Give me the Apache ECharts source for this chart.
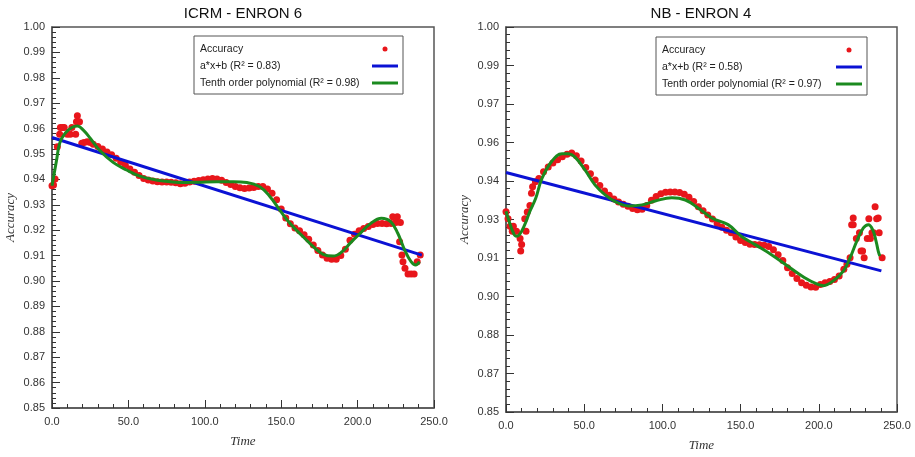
<!DOCTYPE html>
<html>
<head>
<meta charset="utf-8">
<script src="https://cdn.jsdelivr.net/npm/echarts@6/dist/echarts.min.js"></script>
<style>
html,body{margin:0;padding:0;background:#fff;}
#chart{width:915px;height:457px;}
</style>
</head>
<body>
<div id="chart"></div>
<script>
// ---------- Data ----------
const titles = ['ICRM - ENRON 6', 'NB - ENRON 4'];
const legendNames = [
  ['Accuracy', 'a*x+b (R² = 0.83)', 'Tenth order polynomial (R² = 0.98)'],
  ['Accuracy', 'a*x+b (R² = 0.58)', 'Tenth order polynomial (R² = 0.97)']
];
const xLimits = [0, 250];
const xStep = 50;
const yLimits = [0.85, 1.00];
const yStepLeft = 0.01;
const yStepRight = 0.015;

// Left chart: ICRM - ENRON 6
const leftAccuracy = [
  [0,0.9375],[1,0.9378],[2,0.9402],[3.5,0.9529],[5,0.9578],[5.5,0.9604],[7,0.9604],[8,0.9604],
  [10,0.9578],[12,0.9578],[13,0.9604],[15.5,0.9578],[16,0.9627],[16.6,0.9651],[18,0.9627],
  [19.5,0.9542],[21,0.9545],[23,0.9548],[25,0.9545],
  [27,0.9538],[30,0.9530],[33,0.9520],[36,0.9508],[39,0.9497],[42,0.9483],[45,0.9468],[48,0.9456],
  [51,0.9441],[54,0.9428],[57,0.9415],[60,0.9404],[63,0.9398],[66,0.9394],[69,0.9391],[72,0.9390],
  [75,0.9390],[78,0.9389],[81,0.9387],[84,0.9383],[87,0.9385],[90,0.9390],[93,0.9393],[96,0.9396],
  [99,0.9399],[102,0.9402],[105,0.9404],[108,0.9402],[111,0.9397],[114,0.9388],[117,0.9380],
  [120,0.9372],[123,0.9367],[126,0.9364],[129,0.9366],[132,0.9368],[135,0.9372],[138,0.9372],
  [141,0.9362],[144,0.9345],[147,0.9320],[150,0.9283],[153,0.9248],[156,0.9225],[159,0.9209],
  [162,0.9198],[165,0.9182],[168,0.9164],[171,0.9142],[174,0.9120],[177,0.9102],[180,0.9090],
  [183,0.9086],[186,0.9086],[189,0.9100],[192,0.9125],[195,0.9160],[198,0.9184],[201,0.9198],
  [204,0.9207],[207,0.9215],[210,0.9222],[213,0.9226],[216,0.9226],[219,0.9225],[222,0.9226],
  [223,0.9253],[226,0.9253],[225,0.9230],[228,0.9230],[227.5,0.9155],[229,0.9102],[229.7,0.9076],
  [231,0.9050],[233,0.9028],[235,0.9028],[237,0.9028],[239,0.9076],[241,0.9102]
];
const leftLinear = [[0,0.9565],[242,0.9102]];
const leftPoly = [
  [0,0.9375],[3,0.9476],[5,0.9542],[8.5,0.9581],[13,0.9604],[16.6,0.9610],[20.5,0.9594],
  [25,0.9562],[31,0.9516],[40,0.9467],[48.8,0.9437],[57.5,0.9413],[68,0.9398],[79,0.9390],
  [88,0.9388],[96,0.9389],[107.7,0.9391],[118.7,0.9391],[127.5,0.9388],[136,0.9371],
  [142.7,0.9332],[149,0.9280],[155.7,0.9227],[164.4,0.9174],[171,0.9135],[177.5,0.9105],
  [184,0.9098],[189.8,0.9115],[195,0.9148],[201.7,0.9188],[208,0.9224],[215.6,0.9247],
  [221.6,0.9234],[226.3,0.9188],[230.8,0.9122],[235,0.9076],[238,0.9063],[240.5,0.9076]
];

// Right chart: NB - ENRON 4
const rightAccuracy = [
  [0,0.9280],[1.3,0.9253],[2.6,0.9224],[4.7,0.9224],[4,0.9204],[5.4,0.9204],[6.7,0.9204],
  [9,0.9176],[10,0.9153],[9.4,0.9127],[12.8,0.9204],[12,0.9253],[13.6,0.9279],[15.3,0.9305],
  [16.3,0.9352],[17,0.9378],[18.8,0.9397],[21,0.9410],
  [24,0.9436],[27,0.9455],[30,0.9470],[33,0.9483],[36,0.9494],[39,0.9504],[42,0.9509],[45,0.9498],
  [48,0.9478],[51,0.9453],[54,0.9428],[57,0.9404],[60,0.9382],[63,0.9361],[66,0.9344],[69,0.9330],
  [72,0.9318],[75,0.9309],[78,0.9302],[81,0.9293],[84,0.9288],[87,0.9290],[90,0.9305],[93,0.9325],
  [96,0.9340],[99,0.9350],[102,0.9356],[105,0.9357],[108,0.9357],[111,0.9355],[114,0.9348],
  [117,0.9337],[120,0.9320],[123,0.9300],[126,0.9284],[129,0.9268],[132,0.9252],[135,0.9234],
  [138,0.9220],[141,0.9208],[144,0.9198],[147,0.9182],[150,0.9168],[153,0.9160],[156,0.9154],
  [159,0.9153],[162,0.9152],[165,0.9150],[168,0.9145],[171,0.9132],[174,0.9113],[177,0.9090],
  [180,0.9062],[183,0.9040],[186,0.9020],[189,0.9004],[192,0.8994],[195,0.8987],[198,0.8986],
  [201,0.8997],[204,0.9004],[207,0.9008],[210,0.9016],[213,0.9030],[216,0.9056],[218,0.9076],
  [220,0.9101],
  [221,0.9230],[222,0.9230],[222,0.9256],[224,0.9176],[226,0.9198],[227,0.9127],[228,0.9127],
  [229,0.9101],[231,0.9176],[232,0.9253],[233,0.9176],[234,0.9198],[235,0.9198],[236,0.9300],
  [237,0.9253],[238,0.9256],[238.6,0.9198],[240.5,0.9101]
];
const rightLinear = [[0,0.9433],[240,0.9050]];
const rightPoly = [
  [0,0.9282],[2,0.9243],[4.3,0.9204],[6.4,0.9185],[8.5,0.9190],[12,0.9230],[15.3,0.9282],
  [19,0.9333],[23,0.9410],[29.4,0.9478],[35.8,0.9506],[40,0.9506],[44,0.9494],[50.6,0.9442],
  [57,0.9384],[63.4,0.9346],[69.8,0.9320],[78.3,0.9303],[86.9,0.9307],[95.4,0.9322],[106,0.9335],
  [114.7,0.9326],[123,0.9294],[131.6,0.9256],[142,0.9230],[150.4,0.9185],[159,0.9153],
  [169.5,0.9114],[180,0.9069],[190.7,0.9024],[199,0.8998],[203,0.8992],[209.4,0.9012],
  [215.8,0.9050],[220,0.9101],[224.3,0.9166],[228.5,0.9217],[231.7,0.9230],[234.5,0.9210],
  [236.6,0.9166],[238,0.9127],[239,0.9108]
];

// ---------- Styling ----------
const RED = '#e8161b', BLUE = '#0b12d4', GREEN = '#1b8a1f';
const SANS = 'Liberation Sans, Arial, sans-serif';
const SERIF = 'Liberation Serif, Times New Roman, serif';
const AXC = '#555';
const LINE_ICON = 'path://M0,0M0,1h26v3h-26zM26,5';

function fmt2(v) { return (Math.round(v * 100 + 1e-6) / 100).toFixed(2); }

function xAxisFor(gi) {
  return {
    type: 'value', gridIndex: gi, min: xLimits[0], max: xLimits[1], interval: xStep,
    name: 'Time', nameLocation: 'middle', nameGap: 27,
    nameTextStyle: { fontFamily: SERIF, fontStyle: 'italic', fontSize: 13, color: '#333' },
    axisLine: { show: true, lineStyle: { color: AXC, width: 1.5 } },
    axisTick: { show: true, inside: true, length: 8, lineStyle: { color: '#333' } },
    minorTick: { show: true, splitNumber: 5, length: 4, lineStyle: { color: '#333' } },
    splitLine: { show: false }, minorSplitLine: { show: false },
    axisLabel: { margin: 8, fontFamily: SANS, fontSize: 11, color: '#333',
      formatter: v => v.toFixed(1) }
  };
}
function yAxisFor(gi, step) {
  return {
    type: 'value', gridIndex: gi, min: yLimits[0], max: yLimits[1], interval: step,
    name: 'Accuracy', nameLocation: 'middle', nameGap: 35, nameRotate: 90,
    nameTextStyle: { fontFamily: SERIF, fontStyle: 'italic', fontSize: 13, color: '#333' },
    axisLine: { show: true, lineStyle: { color: AXC, width: 1.5 } },
    axisTick: { show: true, inside: true, length: 8, lineStyle: { color: '#333' } },
    minorTick: { show: true, splitNumber: 5, length: 4, lineStyle: { color: '#333' } },
    splitLine: { show: false }, minorSplitLine: { show: false },
    axisLabel: { margin: 7, fontFamily: SANS, fontSize: 11, color: '#333', formatter: fmt2 }
  };
}
function legendFor(gi, left, top, textW) {
  const n = legendNames[gi];
  return {
    orient: 'vertical', left: left, top: top, align: 'right',
    backgroundColor: '#fff', borderColor: AXC, borderWidth: 1,
    padding: [6, 5, 4, 6], itemGap: 3, itemWidth: 26, itemHeight: 5,
    selectedMode: false,
    itemStyle: { borderWidth: 0 },
    formatter: name => '{t|' + name + '}',
    textStyle: { fontFamily: SANS, fontSize: 10.5, color: '#222', lineHeight: 14,
      rich: { t: { width: textW, align: 'left', fontFamily: SANS, fontSize: 10.5, color: '#222', lineHeight: 14 } } },
    data: [
      { name: n[0], icon: 'circle', itemStyle: { color: RED } },
      { name: n[1], icon: LINE_ICON, itemStyle: { color: BLUE } },
      { name: n[2], icon: LINE_ICON, itemStyle: { color: GREEN } }
    ]
  };
}
function seriesFor(gi, acc, lin, poly) {
  const n = legendNames[gi];
  return [
    { type: 'scatter', name: n[0], xAxisIndex: gi, yAxisIndex: gi, data: acc,
      symbol: 'circle', symbolSize: 7, itemStyle: { color: RED, opacity: 1 }, z: 2 },
    { type: 'line', name: n[1], xAxisIndex: gi, yAxisIndex: gi, data: lin,
      symbol: 'none', showSymbol: false, lineStyle: { color: BLUE, width: 3 },
      itemStyle: { color: BLUE }, z: 3 },
    { type: 'line', name: n[2], xAxisIndex: gi, yAxisIndex: gi, data: poly,
      symbol: 'none', showSymbol: false, smooth: 0.4, lineStyle: { color: GREEN, width: 3 },
      itemStyle: { color: GREEN }, z: 4 }
  ];
}

const chart = echarts.init(document.getElementById('chart'), null, { renderer: 'canvas' });
chart.setOption({
  animation: false,
  backgroundColor: '#fff',
  title: [
    { text: titles[0], left: 243, top: 6, padding: 0, textAlign: 'center',
      textStyle: { fontFamily: SANS, fontSize: 15, fontWeight: 'normal', color: '#111' } },
    { text: titles[1], left: 701, top: 6, padding: 0, textAlign: 'center',
      textStyle: { fontFamily: SANS, fontSize: 15, fontWeight: 'normal', color: '#111' } }
  ],
  grid: [
    { left: 52, top: 27, width: 382, height: 381, show: true, borderColor: AXC, borderWidth: 1.5,
      backgroundColor: 'transparent' },
    { left: 506, top: 27, width: 391, height: 389, show: true, borderColor: AXC, borderWidth: 1.5,
      backgroundColor: 'transparent' }
  ],
  legend: [legendFor(0, 194, 36, 167), legendFor(1, 656, 37, 169)],
  xAxis: [xAxisFor(0), xAxisFor(1)],
  yAxis: [yAxisFor(0, yStepLeft), yAxisFor(1, yStepRight)],
  series: seriesFor(0, leftAccuracy, leftLinear, leftPoly)
    .concat(seriesFor(1, rightAccuracy, rightLinear, rightPoly))
});
</script>
</body>
</html>
